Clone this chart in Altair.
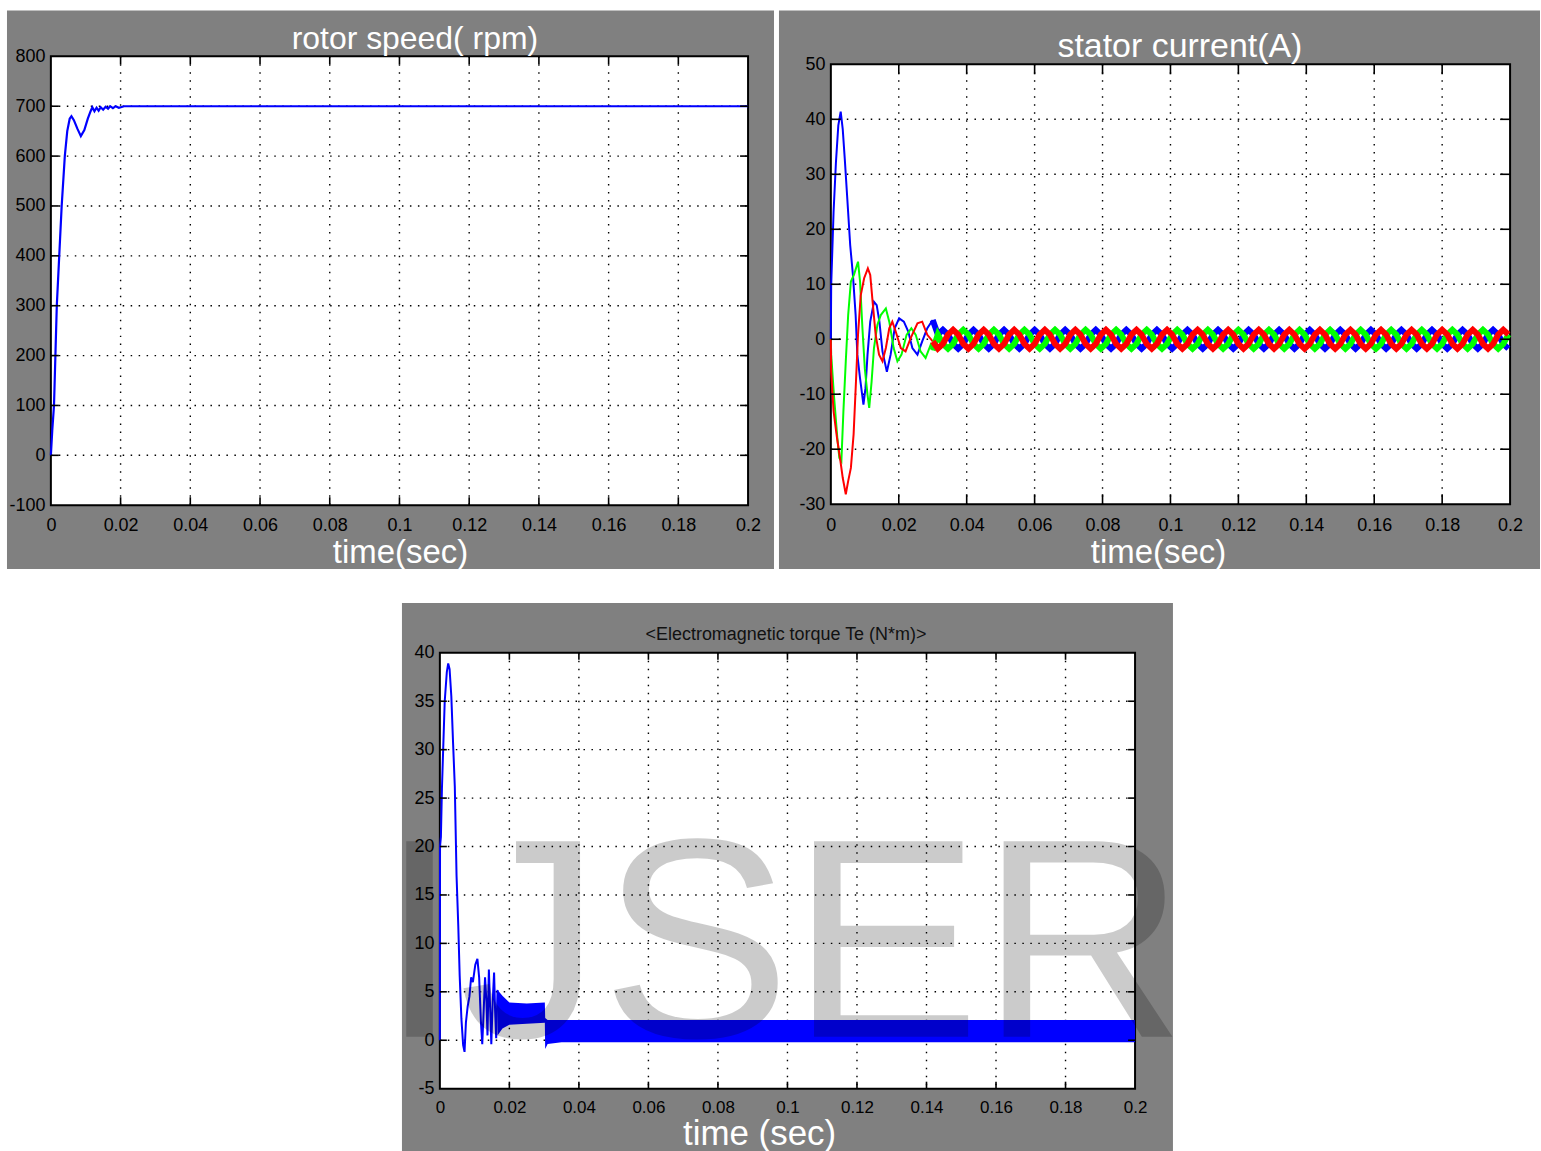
import altair as alt
import pandas as pd

# ---------------- data ----------------
X_TICKS = [0, 0.02, 0.04, 0.06, 0.08, 0.1, 0.12, 0.14, 0.16, 0.18, 0.2]
SPEED_TICKS = [-100, 0, 100, 200, 300, 400, 500, 600, 700, 800]
CURRENT_TICKS = [-30, -20, -10, 0, 10, 20, 30, 40, 50]
TORQUE_TICKS = [-5, 0, 5, 10, 15, 20, 25, 30, 35, 40]

SPEED_T = [0, 0.0004, 0.0009, 0.0013, 0.0017, 0.0024, 0.0031, 0.004, 0.0047, 0.0054,
           0.0059, 0.0066, 0.0076, 0.0086, 0.0096, 0.0106, 0.0114, 0.0119, 0.0125, 0.0131,
           0.0137, 0.0143, 0.015, 0.0157, 0.0164, 0.017, 0.0178, 0.0186, 0.0195, 0.021,
           0.025, 0.2]
SPEED_RPM = [0, 50, 100, 200, 300, 400, 500, 600, 650, 675,
             680, 672, 655, 640, 652, 675, 690, 698, 690, 697,
             691, 698, 693, 699, 695, 700, 696, 700, 697, 700,
             700, 700]

BLUE_T = [0, 0.0001, 0.0008, 0.0015, 0.0022, 0.0029, 0.0035, 0.0041, 0.0049, 0.0057,
          0.0065, 0.0073, 0.0078, 0.0086, 0.0096, 0.0102, 0.0108, 0.0116, 0.0127, 0.0135,
          0.0143, 0.0152, 0.0165, 0.0176, 0.0188, 0.0201, 0.0215, 0.0228, 0.024, 0.0255,
          0.0269, 0.0284, 0.03]
BLUE_I = [0, 9.8, 23.1, 32.2, 38.9, 41.4, 38.2, 32.8, 25, 17.1,
          11.7, 4.4, -2.8, -7.1, -11.9, -8.9, -2.8, 3.2, 6.8, 6.2,
          3.2, -2.2, -5.9, -2.8, 2, 3.8, 3.2, 1.4, -1.6, -2.8,
          -0.4, 2, 3.5]
GREEN_T = [0, 0.0001, 0.0009, 0.0019, 0.0025, 0.0031, 0.0037, 0.0044, 0.0051, 0.0059,
           0.0068, 0.008, 0.0086, 0.0093, 0.01, 0.0108, 0.0113, 0.012, 0.0127, 0.0137,
           0.0147, 0.0162, 0.0172, 0.0185, 0.0196, 0.0208, 0.0223, 0.0237, 0.025, 0.0264,
           0.0279, 0.0294, 0.03]
GREEN_I = [0, -2.8, -10.1, -17.9, -21.6, -22.2, -13.1, -4, 4.4, 10.5,
           11.7, 14.1, 10.5, 2, -5.3, -10.1, -12.5, -7.7, -1.6, 2.6,
           4.4, 5.6, 3.2, -1.6, -4, -2.8, 0.8, 2, 0.8, -2.2,
           -3.4, -1, -2]
RED_T = [0, 0.0001, 0.0008, 0.0018, 0.0027, 0.0035, 0.0044, 0.0051, 0.0059, 0.0067,
         0.0074, 0.008, 0.0088, 0.0098, 0.0109, 0.0116, 0.0123, 0.0132, 0.0142, 0.0152,
         0.0162, 0.0172, 0.0181, 0.0191, 0.0206, 0.022, 0.0235, 0.0255, 0.0269, 0.0284,
         0.03]
RED_I = [0, -5.9, -13.1, -17.9, -21.6, -25.2, -28.2, -25.8, -23.4, -17.3,
         -7.7, 0.8, 8, 11.1, 12.9, 11.7, 6.8, 0.8, -2.8, -4,
         -1.6, 2, 3.2, 1.4, -1.6, -2.2, 0.2, 2.9, 3.2, 0.8,
         -0.4]

# steady state (0.03 s .. 0.2 s), sampled every 1.5 ms
SS_T = [round(0.03 + 0.0015 * k, 4) for k in range(1, 114)]
BLUE_SS = [0.85, 1.7, 0.85, -0.85, -1.7, -0.85, 0.85, 1.7, 0.85, -0.85, -1.7, -0.85, 0.85, 1.7, 0.85, -0.85, -1.7, -0.85,
           0.85, 1.7, 0.85, -0.85, -1.7, -0.85, 0.85, 1.7, 0.85, -0.85, -1.7, -0.85, 0.85, 1.7, 0.85, -0.85, -1.7, -0.85,
           0.85, 1.7, 0.85, -0.85, -1.7, -0.85, 0.85, 1.7, 0.85, -0.85, -1.7, -0.85, 0.85, 1.7, 0.85, -0.85, -1.7, -0.85,
           0.85, 1.7, 0.85, -0.85, -1.7, -0.85, 0.85, 1.7, 0.85, -0.85, -1.7, -0.85, 0.85, 1.7, 0.85, -0.85, -1.7, -0.85,
           0.85, 1.7, 0.85, -0.85, -1.7, -0.85, 0.85, 1.7, 0.85, -0.85, -1.7, -0.85, 0.85, 1.7, 0.85, -0.85, -1.7, -0.85,
           0.85, 1.7, 0.85, -0.85, -1.7, -0.85, 0.85, 1.7, 0.85, -0.85, -1.7, -0.85, 0.85, 1.7, 0.85, -0.85, -1.7, -0.85,
           0.85, 1.7, 0.85, -0.85, -1.7]
GREEN_SS = [0.85, -0.85, -1.7, -0.85, 0.85, 1.7, 0.85, -0.85, -1.7, -0.85, 0.85, 1.7, 0.85, -0.85, -1.7, -0.85, 0.85, 1.7,
            0.85, -0.85, -1.7, -0.85, 0.85, 1.7, 0.85, -0.85, -1.7, -0.85, 0.85, 1.7, 0.85, -0.85, -1.7, -0.85, 0.85, 1.7,
            0.85, -0.85, -1.7, -0.85, 0.85, 1.7, 0.85, -0.85, -1.7, -0.85, 0.85, 1.7, 0.85, -0.85, -1.7, -0.85, 0.85, 1.7,
            0.85, -0.85, -1.7, -0.85, 0.85, 1.7, 0.85, -0.85, -1.7, -0.85, 0.85, 1.7, 0.85, -0.85, -1.7, -0.85, 0.85, 1.7,
            0.85, -0.85, -1.7, -0.85, 0.85, 1.7, 0.85, -0.85, -1.7, -0.85, 0.85, 1.7, 0.85, -0.85, -1.7, -0.85, 0.85, 1.7,
            0.85, -0.85, -1.7, -0.85, 0.85, 1.7, 0.85, -0.85, -1.7, -0.85, 0.85, 1.7, 0.85, -0.85, -1.7, -0.85, 0.85, 1.7,
            0.85, -0.85, -1.7, -0.85, 0.85]
RED_SS = [-1.7, -0.85, 0.85, 1.7, 0.85, -0.85, -1.7, -0.85, 0.85, 1.7, 0.85, -0.85, -1.7, -0.85, 0.85, 1.7, 0.85, -0.85,
          -1.7, -0.85, 0.85, 1.7, 0.85, -0.85, -1.7, -0.85, 0.85, 1.7, 0.85, -0.85, -1.7, -0.85, 0.85, 1.7, 0.85, -0.85,
          -1.7, -0.85, 0.85, 1.7, 0.85, -0.85, -1.7, -0.85, 0.85, 1.7, 0.85, -0.85, -1.7, -0.85, 0.85, 1.7, 0.85, -0.85,
          -1.7, -0.85, 0.85, 1.7, 0.85, -0.85, -1.7, -0.85, 0.85, 1.7, 0.85, -0.85, -1.7, -0.85, 0.85, 1.7, 0.85, -0.85,
          -1.7, -0.85, 0.85, 1.7, 0.85, -0.85, -1.7, -0.85, 0.85, 1.7, 0.85, -0.85, -1.7, -0.85, 0.85, 1.7, 0.85, -0.85,
          -1.7, -0.85, 0.85, 1.7, 0.85, -0.85, -1.7, -0.85, 0.85, 1.7, 0.85, -0.85, -1.7, -0.85, 0.85, 1.7, 0.85, -0.85,
          -1.7, -0.85, 0.85, 1.7, 0.85]

TORQUE_T = [0, 0.00005, 0.0003, 0.0006, 0.00095, 0.0014, 0.002, 0.0024, 0.0028, 0.0033,
            0.0038, 0.0043, 0.0048, 0.0053, 0.0057, 0.0062, 0.0067, 0.0071, 0.0075, 0.008,
            0.0085, 0.009, 0.0095, 0.0102, 0.0108, 0.0113, 0.0118, 0.0122, 0.0126, 0.013,
            0.0134, 0.0137, 0.0141, 0.0145, 0.0148, 0.0152, 0.0156, 0.0159, 0.0162, 0.0166]
TORQUE_TE = [0, 20, 21, 26, 30, 35, 38, 38.9, 38.3, 35.5,
             30.7, 26.2, 17, 11.8, 6.7, 2.2, -0.5, -1.2, 1.85, 3.5,
             4.5, 6.5, 6, 7.8, 8.4, 6.5, 2, -0.4, 3, 6.5,
             4, 0.5, 7.3, 3, -0.4, 4, 7, 3, 0.2, 5.2]
BAND_T = [0.0166, 0.018, 0.02, 0.025, 0.0302, 0.0303, 0.031, 0.035, 0.2]
BAND_LO = [0.5, 1.2, 1.6, 1.7, 1.8, -0.9, -0.4, -0.2, -0.2]
BAND_HI = [5.2, 4.6, 3.9, 3.8, 3.9, 2.3, 2.1, 2.1, 2.1]

TITLE_A = "rotor speed( rpm)"
TITLE_B = "stator current(A)"
TITLE_C = "<Electromagnetic torque Te (N*m)>"
XTITLE_AB = "time(sec)"
XTITLE_C = "time (sec)"
WATERMARK = "IJSER"

# ---------------- styling ----------------
GREY = "#808080"
BLUE = "#0000ff"
GREEN = "#00ff00"
RED = "#ff0000"
FONT = "Liberation Sans, Arial, sans-serif"


def one(label=""):
    return pd.DataFrame({"label": [label]})


def make_panel(p, data_layers, top_layers):
    w, h = p["w"], p["h"]
    fx0, fy0, fx1, fy1 = p["frame"]
    xs = alt.Scale(domain=p["xdom"], nice=False, zero=False)
    ys = alt.Scale(domain=p["ydom"], nice=False, zero=False)
    xaxis = alt.Axis(values=X_TICKS, labelExpr="'' + datum.value", grid=False, domain=False,
                     ticks=False, labelFont=FONT, labelFontSize=p["xlab"],
                     labelColor="black", labelPadding=p["xpad"], labelFlush=False,
                     labelOverlap=False, title=p["xtitle"], titleFont=FONT,
                     titleFontSize=p["xtsize"], titleFontWeight="normal",
                     titleColor="white", titleX=p["xtx"], titleY=p["xty"],
                     titleAlign="center", titleBaseline="alphabetic", zindex=1)
    yaxis = alt.Axis(values=p["yticks"], labelExpr="'' + datum.value", grid=False,
                     domain=False, ticks=False, labelFont=FONT, labelFontSize=p["ylab"],
                     labelColor="black", labelPadding=6, labelOverlap=False,
                     offset=p["yoff"], title="", zindex=1)
    X = alt.X("t:Q", scale=xs, axis=xaxis)
    Y = alt.Y("v:Q", scale=ys, axis=yaxis)

    gx0, gx1, gy0, gy1 = p["grey"]
    bg = alt.Chart(one()).mark_rect(color=GREY).encode(
        x=alt.value(gx0), x2=alt.value(gx1), y=alt.value(gy0), y2=alt.value(gy1))
    plot = alt.Chart(one()).mark_rect(fill="white", stroke="black", strokeWidth=2).encode(
        x=alt.value(fx0), x2=alt.value(fx1), y=alt.value(fy0), y2=alt.value(fy1))
    xg = pd.DataFrame({"t": X_TICKS[1:-1]})
    yg = pd.DataFrame({"v": p["yticks"][1:-1]})
    gstyle = dict(color="black", strokeWidth=1.4, strokeDash=[1.5, 6.5])
    gridx = alt.Chart(xg).mark_rule(**gstyle).encode(x=X, y=alt.value(fy0), y2=alt.value(fy1))
    gridy = alt.Chart(yg).mark_rule(**gstyle).encode(y=Y, x=alt.value(fx0), x2=alt.value(fx1))
    L = p["tick"]
    tstyle = dict(color="black", strokeWidth=1.6)
    tb = alt.Chart(xg).mark_rule(**tstyle).encode(x=X, y=alt.value(fy1), y2=alt.value(fy1 - L))
    tt = alt.Chart(xg).mark_rule(**tstyle).encode(x=X, y=alt.value(fy0), y2=alt.value(fy0 + L))
    tl = alt.Chart(yg).mark_rule(**tstyle).encode(y=Y, x=alt.value(fx0), x2=alt.value(fx0 + L))
    tr = alt.Chart(yg).mark_rule(**tstyle).encode(y=Y, x=alt.value(fx1 - L), x2=alt.value(fx1))

    layers = [bg, plot, gridx, gridy]
    for d in data_layers:
        layers.append(d(X, Y))
    layers += [tb, tt, tl, tr]
    layers += top_layers
    return alt.layer(*layers).properties(width=w, height=h)


def title_text(txt, x, y, size, color):
    return alt.Chart(one(txt)).mark_text(
        font=FONT, fontSize=size, color=color, align="center", baseline="alphabetic"
    ).encode(text="label:N", x=alt.value(x), y=alt.value(y))


def line_layer(ts, vs, color, width):
    df = pd.DataFrame({"t": ts, "v": vs})
    return lambda X, Y: alt.Chart(df).mark_line(color=color, strokeWidth=width).encode(x=X, y=Y)


# ---------------- panel A: rotor speed (view origin at 50,54) ----------------
PA = dict(w=699, h=450, frame=(0, 0, 699, 450), xdom=[0, 0.2], ydom=[-100, 800],
          yticks=SPEED_TICKS, grey=(-44, 725, -46, 514), tick=8, xlab=18, ylab=18,
          xpad=11, yoff=0, xtitle=XTITLE_AB, xtx=350, xty=57, xtsize=33)
panel_a = make_panel(PA, [line_layer(SPEED_T, SPEED_RPM, BLUE, 2.2)],
                     [title_text(TITLE_A, 365, -7, 32, "white")])

# ---------------- panel B: stator current (view origin at 830,54) ----------------
PB = dict(w=681, h=449, frame=(0, 8, 681, 449), xdom=[0, 0.2], ydom=[-30, 51.4512],
          yticks=CURRENT_TICKS, grey=(-52, 711, -46, 514), tick=10, xlab=18, ylab=18,
          xpad=12, yoff=0, xtitle=XTITLE_AB, xtx=328, xty=58, xtsize=33)
ss_t = [BLUE_T[-1]] + SS_T
panel_b = make_panel(PB, [
    line_layer(BLUE_T, BLUE_I, BLUE, 2),
    line_layer(GREEN_T, GREEN_I, GREEN, 2),
    line_layer(RED_T, RED_I, RED, 2),
    line_layer(ss_t, [BLUE_I[-1]] + BLUE_SS, BLUE, 6),
    line_layer(ss_t, [GREEN_I[-1]] + GREEN_SS, GREEN, 6),
    line_layer(ss_t, [RED_I[-1]] + RED_SS, RED, 6)],
    [title_text(TITLE_B, 350, 1, 34, "white")])

# ---------------- panel C: torque (view origin at 50,650; frame from x=440) ----------------
band_df = pd.DataFrame({"t": BAND_T, "v": BAND_LO, "v2": BAND_HI})


def band_layer(X, Y):
    return alt.Chart(band_df).mark_area(color=BLUE, opacity=1).encode(
        x=X, y=Y, y2=alt.Y2("v2:Q"))


watermark = alt.Chart(one(WATERMARK)).mark_text(
    font=FONT, fontSize=285, color="black", opacity=0.2, align="left",
    baseline="alphabetic").encode(text="label:N", x=alt.value(330), y=alt.value(385))

PC = dict(w=1087, h=437, frame=(390, 0, 1087, 437), xdom=[-0.111908, 0.2], ydom=[-5, 40],
          yticks=TORQUE_TICKS, grey=(352, 1125, -50, 501), tick=7, xlab=17, ylab=18,
          xpad=11, yoff=-390, xtitle=XTITLE_C, xtx=710, xty=56, xtsize=35)
panel_c = make_panel(PC, [band_layer, line_layer(TORQUE_T, TORQUE_TE, BLUE, 2)],
                     [title_text(TITLE_C, 737, -13, 18, "#111111"), watermark])

top = alt.hconcat(panel_a, panel_b, spacing=3)
chart = alt.vconcat(top, panel_c, spacing=32).properties(
    padding={"left": 6, "top": 8, "right": 0, "bottom": 0},
    background="white",
).configure_view(stroke="transparent")

chart.save("out.html", embed_options={"renderer": "svg", "actions": False})
